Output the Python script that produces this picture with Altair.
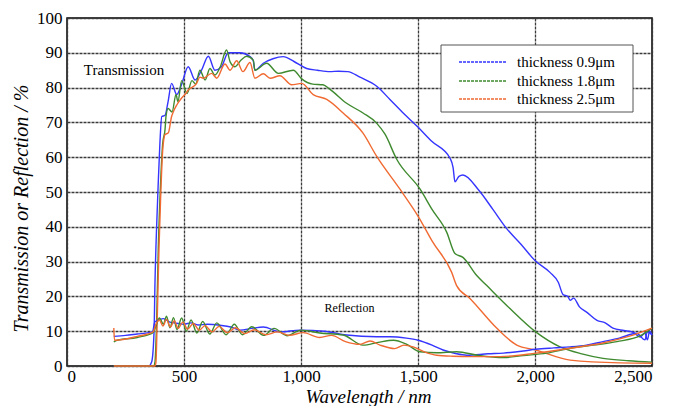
import altair as alt
import pandas as pd

labels = ["thickness 0.9\u03bcm", "thickness 1.8\u03bcm", "thickness 2.5\u03bcm"]
colors = ["#3535ff", "#3f8a2f", "#f06a32"]

# Transmission, 0.9 um
t1_wl = [200, 350, 362, 372, 376, 383, 390, 397, 405, 419, 432, 447, 469, 490, 518, 547, 575, 604, 632, 660,
         689, 739, 782, 796, 803, 839, 880, 924, 970, 1024, 1070, 1124, 1160, 1200, 1252, 1325, 1380, 1440,
         1496, 1560, 1637, 1650, 1658, 1675, 1692, 1760, 1820, 1880, 1940, 2000, 2064, 2100, 2120, 2140, 2150,
         2165, 2190, 2222, 2265, 2300, 2333, 2380, 2419, 2449, 2470, 2480, 2490, 2500]
t1_val = [0, 0, 1.2, 9.8, 24, 40, 52.7, 64, 71.7, 72, 76, 81.2, 78, 81, 86, 82.2, 85, 89, 85, 86,
          90, 90, 88.9, 87.7, 85, 87, 88.3, 88.9, 87.5, 85.5, 85, 84.6, 84.7, 84.6, 83, 80.3, 76.6, 72.5,
          68.9, 64.5, 59.7, 57, 52.9, 54.5, 54.9, 50.5, 45, 39.4, 35, 30.3, 26.9, 24, 20.5, 20, 18.9,
          19.5, 17, 15.4, 13.1, 12.4, 10.9, 10.2, 9.7, 8.3, 9.5, 7.5, 10, 8.9]

# Transmission, 1.8 um
t2_wl = [200, 370, 376, 383, 390, 400, 409, 419, 423, 432, 449, 466, 474, 490, 513, 534, 550, 568, 590, 611,
         632, 655, 682, 697, 718, 745, 768, 796, 803, 853, 903, 967, 1003, 1050, 1094, 1124, 1195, 1265, 1323,
         1359, 1409, 1509, 1560, 1623, 1658, 1692, 1751, 1794, 1893, 2003, 2107, 2200, 2291, 2400, 2500]
t2_val = [0, 0, 1.2, 12.7, 33.6, 52.7, 64, 68, 71.7, 74, 73, 78, 76, 82, 78.3, 82, 81, 85, 82.2, 85.5,
          83.6, 86, 90.8, 87.4, 86, 88, 89, 87.9, 85, 87, 84.1, 85, 82.5, 81, 80.8, 79.5, 75.5, 72.7, 69.8,
          66.6, 59.4, 50.8, 45, 38.4, 32.3, 31.2, 26, 23.1, 16.5, 9.8, 5.5, 3.5, 2.2, 1.5, 1.1]

# Transmission, 2.5 um
t3_wl = [200, 375, 380, 386, 393, 400, 409, 419, 433, 447, 454, 469, 490, 504, 518, 554, 568, 582, 618, 640,
         675, 697, 725, 752, 782, 803, 839, 868, 910, 960, 1003, 1052, 1110, 1180, 1265, 1323, 1423, 1500,
         1564, 1644, 1665, 1722, 1836, 1922, 2003, 2150, 2363, 2500]
t3_val = [0, 0, 1, 14.6, 33.6, 48, 62, 66.5, 67, 71.7, 73, 75, 77, 78, 79.3, 81.2, 83, 82.7, 84.1, 82.7,
          86.8, 85, 87.7, 84.6, 87.2, 82.7, 84, 82.7, 83.4, 80.8, 81.2, 78, 76.6, 72.7, 66.9, 60.3, 50.8, 43.1,
          35.5, 26.9, 23.1, 19.4, 10.9, 6, 4.6, 1.7, 0.9, 0.8]

# Reflection, 0.9 um
r1_wl = [200, 250, 300, 350, 365, 376, 412, 440, 470, 500, 530, 560, 600, 654, 700, 739, 790, 839, 910, 996,
         1100, 1195, 1323, 1380, 1450, 1500, 1560, 1607, 1660, 1708, 1800, 1865, 1950, 2003, 2080, 2150, 2220,
         2291, 2360, 2434, 2470, 2480, 2490, 2500]
r1_val = [8.5, 8.8, 9.2, 9.6, 9.8, 12.7, 13.6, 12.6, 12.3, 12.0, 12.4, 11.8, 12.0, 11.7, 11.2, 10.3, 10.8, 11.2,
          9.8, 10.3, 10.0, 8.9, 8.4, 8.4, 8.0, 7.4, 6.0, 4.6, 3.6, 3.1, 3.5, 3.7, 4.3, 4.8, 5.2, 5.5, 6.0,
          7.0, 8.0, 9.4, 7.5, 9.8, 9.5, 8.9]

# Reflection, 1.8 um
r2_wl = [200, 210, 300, 368, 380, 395, 412, 425, 440, 455, 470, 490, 510, 530, 555, 580, 610, 640, 680, 715,
         750, 790, 840, 885, 940, 1000, 1080, 1180, 1265, 1330, 1395, 1450, 1509, 1580, 1665, 1760, 1865, 1950,
         2050, 2150, 2250, 2350, 2450, 2500]
r2_val = [6.9, 7.3, 8.2, 9.6, 11.5, 13.8, 12.0, 14.3, 11.0, 13.9, 10.5, 13.8, 10.0, 13.2, 9.5, 12.8, 9.2, 12.4,
          9.0, 12.0, 9.0, 11.3, 8.8, 10.8, 8.7, 10.3, 9.5, 8.9, 6.0, 6.8, 7.4, 6.3, 4.1, 3.8, 4.1, 3.0, 2.4,
          3.0, 3.7, 5.1, 6.0, 7.0, 8.7, 10.9]

# Reflection, 2.5 um
r3_wl = [200, 203, 300, 368, 380, 395, 410, 425, 442, 458, 475, 495, 515, 540, 565, 590, 620, 650, 685, 720,
         760, 800, 850, 900, 950, 1009, 1080, 1130, 1190, 1252, 1295, 1338, 1400, 1440, 1479, 1530, 1580, 1650,
         1722, 1850, 2003, 2150, 2290, 2400, 2500]
r3_val = [10.9, 7.4, 8.5, 9.8, 12.0, 13.2, 11.5, 13.4, 11.2, 13.0, 10.8, 12.6, 10.6, 12.2, 10.3, 11.6, 9.8, 11.4,
          9.6, 11.0, 9.3, 10.4, 9.0, 9.8, 8.8, 9.6, 8.2, 8.8, 7.0, 6.2, 7.2, 6.0, 5.0, 6.0, 5.5, 4.0, 3.1, 2.8,
          2.7, 2.7, 3.7, 5.1, 6.6, 8.5, 10.9]

note_text = ["Transmission", "Reflection"]
note_x = [72, 1207]
note_y = [85.1, 16.6]

rows = []
for lab, kind, wl, val in [
    (labels[0], "T", t1_wl, t1_val), (labels[1], "T", t2_wl, t2_val), (labels[2], "T", t3_wl, t3_val),
    (labels[0], "R", r1_wl, r1_val), (labels[1], "R", r2_wl, r2_val), (labels[2], "R", r3_wl, r3_val),
]:
    for a, b in zip(wl, val):
        rows.append({"series": lab, "kind": kind, "wl": a, "val": b})
df = pd.DataFrame(rows)

FONT = "Liberation Serif"

xscale = alt.Scale(domain=[0, 2500], nice=False, zero=False)
yscale = alt.Scale(domain=[0, 100], nice=False)
xaxis = alt.Axis(values=[0, 500, 1000, 1500, 2000, 2500], format=",d", title="Wavelength / nm", labelPadding=2,
                 titleX=301, titleY=36, titleBaseline="alphabetic", titleAlign="center", titleFontSize=19)
yaxis = alt.Axis(values=list(range(0, 101, 10)), title="Transmission or Reflection / %", labelOverlap=False,
                 titleX=-40, titleY=190, titleAngle=-90, titleBaseline="alphabetic", titleAlign="center")
xenc = alt.X("wl:Q", scale=xscale, axis=xaxis)
yenc = alt.Y("val:Q", scale=yscale, axis=yaxis)

lines = alt.Chart(df).mark_line(strokeWidth=1.4, interpolate="monotone").encode(
    x=xenc, y=yenc,
    color=alt.Color("series:N", scale=alt.Scale(domain=labels, range=colors), legend=None),
    detail="kind:N",
)

notes_df = pd.DataFrame({"text": note_text, "wl": note_x, "val": note_y})
note_layers = []
for i, (fs, al) in enumerate([(15, "left"), (12, "center")]):
    note_layers.append(
        alt.Chart(notes_df.iloc[[i]]).mark_text(
            font=FONT, fontSize=fs, align=al, baseline="middle", color="black").encode(
            x=xenc, y=yenc, text="text:N")
    )

# hand-built legend box (pixel positions inside the plot area)
one = pd.DataFrame({"a": [0]})
legend_layers = [
    alt.Chart(one).mark_rect(fill="white", stroke="#555", strokeWidth=1).encode(
        x=alt.value(374), x2=alt.value(566), y=alt.value(27), y2=alt.value(94))
]
row_y = [44, 63, 81]
for lab, col, ry in zip(labels, colors, row_y):
    legend_layers.append(
        alt.Chart(one).mark_rule(color=col, strokeWidth=1.5, strokeDash=[3, 1]).encode(
            x=alt.value(392), x2=alt.value(440), y=alt.value(ry)))
    legend_layers.append(
        alt.Chart(one).mark_text(text=lab, font=FONT, fontSize=15, align="left", baseline="middle",
                                 color="black").encode(x=alt.value(450), y=alt.value(ry)))

chart = alt.layer(lines, *note_layers, *legend_layers).properties(
    width=585, height=348, autosize=alt.AutoSizeParams(type="none"),
    padding={"left": 59, "top": 10, "right": 18, "bottom": 40},
).configure_view(stroke="black", strokeWidth=1.5).configure_axis(
    labelFont=FONT, labelFontSize=17, labelColor="black", ticks=False, labelPadding=5, domain=False,
    grid=True, gridColor="#3a3a3a", gridDash=[3, 1], gridWidth=1.3, gridOpacity=1,
    titleFont=FONT, titleFontSize=20, titleFontStyle="italic", titleFontWeight="normal", titleColor="black",
)

chart.save("out.html", embed_options={"renderer": "svg", "actions": False})
